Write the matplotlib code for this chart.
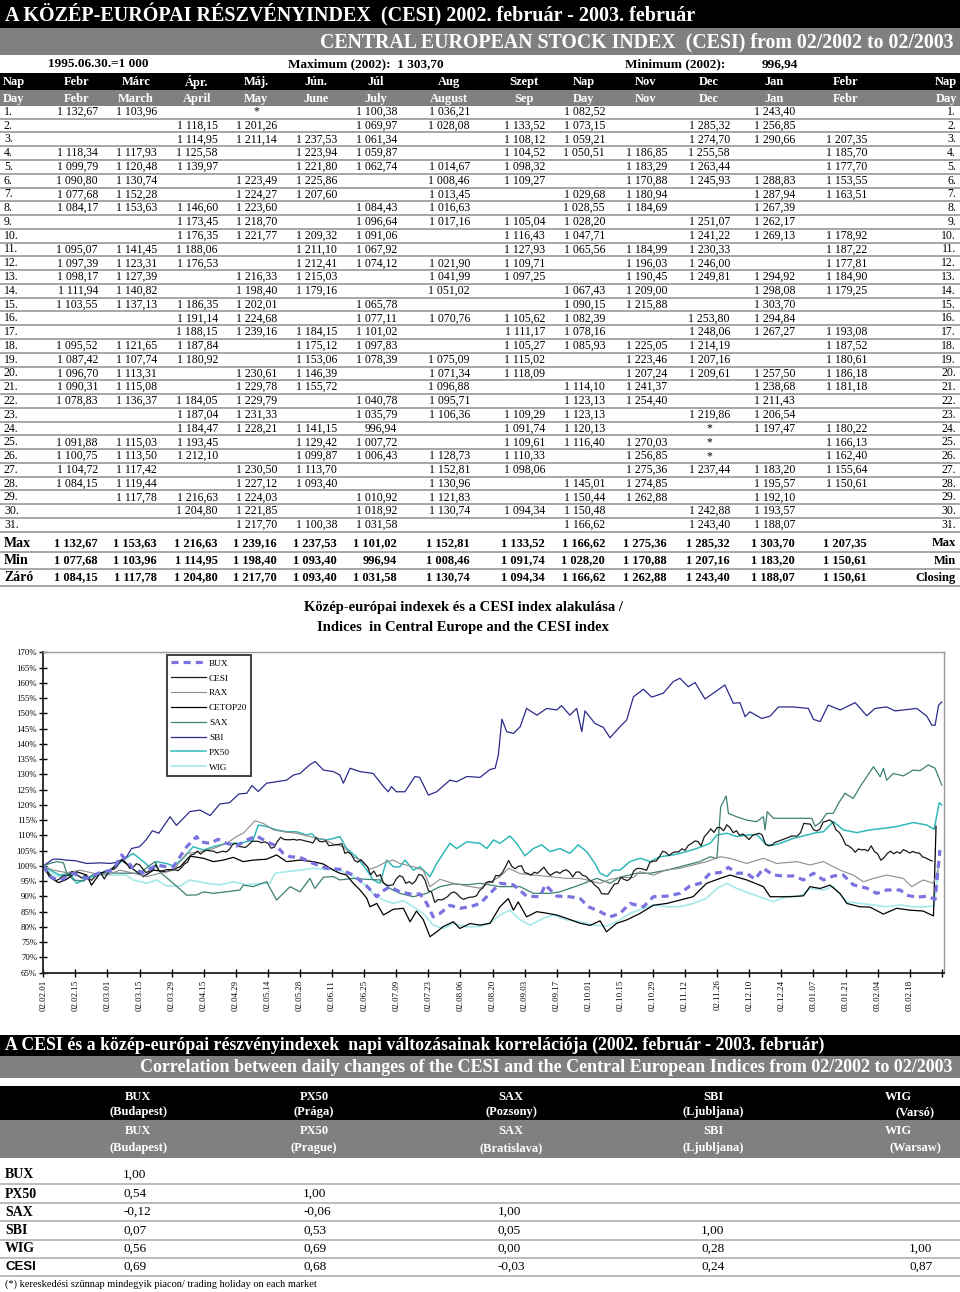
import matplotlib
matplotlib.use('Agg')
import matplotlib.pyplot as plt
from matplotlib.patches import Rectangle
from matplotlib.lines import Line2D
from datetime import date

plt.rcParams['font.family'] = ['Liberation Serif', 'DejaVu Serif']

# ---------------------------------------------------------------- data
months = [(2002, 2), (2002, 3), (2002, 4), (2002, 5), (2002, 6), (2002, 7), (2002, 8),
          (2002, 9), (2002, 10), (2002, 11), (2002, 12), (2003, 1), (2003, 2)]
hu_head = ['Febr', 'Márc', 'Ápr.', 'Máj.', 'Jún.', 'Júl', 'Aug', 'Szept', 'Nap', 'Nov', 'Dec', 'Jan', 'Febr']
en_head = ['Febr', 'March', 'April', 'May', 'June', 'July', 'August', 'Sep', 'Day', 'Nov', 'Dec', 'Jan', 'Febr']

N = None
feb02 = [1132.67, N, N, 1118.34, 1099.79, 1090.80, 1077.68, 1084.17, N, N, 1095.07, 1097.39, 1098.17, 1111.94,
         1103.55, N, N, 1095.52, 1087.42, 1096.70, 1090.31, 1078.83, N, N, 1091.88, 1100.75, 1104.72, 1084.15, N, N, N]
mar02 = [1103.96, N, N, 1117.93, 1120.48, 1130.74, 1152.28, 1153.63, N, N, 1141.45, 1123.31, 1127.39, 1140.82,
         1137.13, N, N, 1121.65, 1107.74, 1113.31, 1115.08, 1136.37, N, N, 1115.03, 1113.50, 1117.42, 1119.44, 1117.78, N, N]
apr02 = [N, 1118.15, 1114.95, 1125.58, 1139.97, N, N, 1146.60, 1173.45, 1176.35, 1188.06, 1176.53, N, N, 1186.35,
         1191.14, 1188.15, 1187.84, 1180.92, N, N, 1184.05, 1187.04, 1184.47, 1193.45, 1212.10, N, N, 1216.63, 1204.80, N]
may02 = ['*', 1201.26, 1211.14, N, N, 1223.49, 1224.27, 1223.60, 1218.70, 1221.77, N, N, 1216.33, 1198.40, 1202.01,
         1224.68, 1239.16, N, N, 1230.61, 1229.78, 1229.79, 1231.33, 1228.21, N, N, 1230.50, 1227.12, 1224.03, 1221.85, 1217.70]
jun02 = [N, N, 1237.53, 1223.94, 1221.80, 1225.86, 1207.60, N, N, 1209.32, 1211.10, 1212.41, 1215.03, 1179.16, N, N,
         1184.15, 1175.12, 1153.06, 1146.39, 1155.72, N, N, 1141.15, 1129.42, 1099.87, 1113.70, 1093.40, N, N, 1100.38]
jul02 = [1100.38, 1069.97, 1061.34, 1059.87, 1062.74, N, N, 1084.43, 1096.64, 1091.06, 1067.92, 1074.12, N, N, 1065.78,
         1077.11, 1101.02, 1097.83, 1078.39, N, N, 1040.78, 1035.79, 996.94, 1007.72, 1006.43, N, N, 1010.92, 1018.92, 1031.58]
aug02 = [1036.21, 1028.08, N, N, 1014.67, 1008.46, 1013.45, 1016.63, 1017.16, N, N, 1021.90, 1041.99, 1051.02, N,
         1070.76, N, N, 1075.09, 1071.34, 1096.88, 1095.71, 1106.36, N, N, 1128.73, 1152.81, 1130.96, 1121.83, 1130.74, N]
sep02 = [N, 1133.52, 1108.12, 1104.52, 1098.32, 1109.27, N, N, 1105.04, 1116.43, 1127.93, 1109.71, 1097.25, N, N,
         1105.62, 1111.17, 1105.27, 1115.02, 1118.09, N, N, 1109.29, 1091.74, 1109.61, 1110.33, 1098.06, N, N, 1094.34, N]
oct02 = [1082.52, 1073.15, 1059.21, 1050.51, N, N, 1029.68, 1028.55, 1028.20, 1047.71, 1065.56, N, N, 1067.43, 1090.15,
         1082.39, 1078.16, 1085.93, N, N, 1114.10, 1123.13, 1123.13, 1120.13, 1116.40, N, N, 1145.01, 1150.44, 1150.48, 1166.62]
nov02 = [N, N, N, 1186.85, 1183.29, 1170.88, 1180.94, 1184.69, N, N, 1184.99, 1196.03, 1190.45, 1209.00, 1215.88, N, N,
         1225.05, 1223.46, 1207.24, 1241.37, 1254.40, N, N, 1270.03, 1256.85, 1275.36, 1274.85, 1262.88, N, N]
dec02 = [N, 1285.32, 1274.70, 1255.58, 1263.44, 1245.93, N, N, 1251.07, 1241.22, 1230.33, 1246.00, 1249.81, N, N,
         1253.80, 1248.06, 1214.19, 1207.16, 1209.61, N, N, 1219.86, '*', '*', '*', 1237.44, N, N, 1242.88, 1243.40]
jan03 = [1243.40, 1256.85, 1290.66, N, N, 1288.83, 1287.94, 1267.39, 1262.17, 1269.13, N, N, 1294.92, 1298.08, 1303.70,
         1294.84, 1267.27, N, N, 1257.50, 1238.68, 1211.43, 1206.54, 1197.47, N, N, 1183.20, 1195.57, 1192.10, 1193.57, 1188.07]
feb03 = [N, N, 1207.35, 1185.70, 1177.70, 1153.55, 1163.51, N, N, 1178.92, 1187.22, 1177.81, 1184.90, 1179.25, N, N,
         1193.08, 1187.52, 1180.61, 1186.18, 1181.18, N, N, 1180.22, 1166.13, 1162.40, 1155.64, 1150.61, N, N, N]
columns = [feb02, mar02, apr02, may02, jun02, jul02, aug02, sep02, oct02, nov02, dec02, jan03, feb03]

max_row = [1132.67, 1153.63, 1216.63, 1239.16, 1237.53, 1101.02, 1152.81, 1133.52, 1166.62, 1275.36, 1285.32, 1303.70, 1207.35]
min_row = [1077.68, 1103.96, 1114.95, 1198.40, 1093.40, 996.94, 1008.46, 1091.74, 1028.20, 1170.88, 1207.16, 1183.20, 1150.61]
close_row = [1084.15, 1117.78, 1204.80, 1217.70, 1093.40, 1031.58, 1130.74, 1094.34, 1166.62, 1262.88, 1243.40, 1188.07, 1150.61]

# chart series (trading-day index, % of 2002.02.01)
bux_x = [0, 2.1, 5.2, 9.3, 13.5, 17.7, 21.8, 24.4, 28, 31.2, 35.3, 38.4, 40.5, 44.7, 47.8, 48.8, 52, 54.5, 57.1, 60.2,
         63.4, 66.5, 69.6, 72.7, 74.8, 76.9, 80, 84.1, 88.3, 92.4, 96.6, 100.8, 103.9, 105.4, 108, 111.1, 114.3, 117.4,
         119.5, 121.5, 123.6, 126.7, 129.8, 133, 136.1, 138.2, 142.3, 146.5, 150.6, 154.8, 156.4, 160, 164.1, 167.3,
         169.9, 173.5, 176.6, 179.7, 182.8, 187, 190.1, 194.3, 198.4, 201.5, 204.7, 207.8, 210.9, 213.5, 216.1, 219.2,
         221.8, 224.4, 227.5, 230.6, 233.7, 236.9, 240, 243.1, 246.2, 249.3, 252.4, 256.6, 259.7, 262.8, 267, 269.1,
         272.2, 275.3, 277.9, 279.4]
bux_y = [100, 96.4, 95.2, 97.6, 95.9, 97.8, 98.7, 103.6, 99.2, 97.6, 100.3, 99.7, 99.7, 106.3, 109.6, 107.9, 107.4,
         108.7, 107.4, 106.5, 108.5, 109.8, 107.9, 106.5, 104.1, 103, 102.8, 100.8, 99.2, 98.9, 97, 93.4, 89.9, 91.5,
         93.2, 91.5, 90.8, 90.8, 87.7, 83.3, 84.4, 87.1, 86.1, 86.6, 87.7, 89.9, 94.3, 93.8, 90.1, 89.9, 93.8, 90.1,
         89.9, 89.3, 86.6, 85, 83.3, 84.4, 87.7, 86.6, 89.9, 90.1, 91, 93.4, 94.3, 97.6, 97.8, 99.5, 97.6, 97.6, 95.6,
         99.2, 97, 96.7, 96.7, 95.4, 97.6, 95.4, 96.7, 97, 93.8, 92.7, 91, 92.1, 92.1, 90.4, 89.7, 90.1, 89, 105.2]

rax_x = [0, 3.1, 7.3, 11.4, 15.6, 19.7, 23.9, 28, 32.2, 36.4, 40.5, 44.7, 48.8, 53, 57.1, 60.2, 62.3, 66, 68.6, 71.7,
         74.8, 78.9, 83.1, 87.3, 90.4, 93.5, 96.6, 99.7, 101.8, 103.9, 107, 109.1, 111.1, 115.3, 118.4, 120.5, 123.6,
         127.8, 132, 136.1, 139, 142.3, 145, 148.5, 152.7, 157.9, 163.1, 167.2, 169.3, 173.5, 176.6, 179.7, 183.9,
         185.9, 190.1, 194.2, 198.4, 202.5, 206.7, 210.9, 214, 219.2, 224.4, 228.5, 234.8, 238.9, 243.1, 248.3, 252.4,
         255.6, 258.7, 262.8, 268, 270.6, 274.2, 277.4, 279]
rax_y = [100, 98.6, 97.8, 98.6, 97.6, 97, 98.6, 97.6, 96.5, 97.6, 98.6, 104.1, 104.6, 105.7, 107.4, 109.6, 110.7,
         114.8, 113.9, 111.8, 111.2, 110.7, 109.6, 108.7, 107.2, 106.3, 103, 101.4, 98.9, 99.7, 101.4, 101.9, 100.8,
         99.7, 98.6, 93.2, 95.6, 94.3, 93.4, 92.7, 94.5, 96.5, 99.2, 97.5, 97, 96.5, 95.9, 95.9, 95.4, 94.3, 95.6, 96.2,
         96.2, 98.1, 97, 98.7, 99.2, 100.3, 101.4, 103, 102.5, 100.8, 102.5, 100.8, 101.4, 100.3, 101.4, 98.6, 97,
         94.8, 95.9, 97, 95.9, 93.2, 95.4, 94.3, 99.5]

cetop_x = [0, 2, 4.7, 7.3, 10.4, 13.5, 15, 17.7, 20.8, 24.4, 28, 31.2, 34.3, 38.4, 42.6, 45.7, 49.9, 53, 56.1, 59.2,
           62.3, 65.4, 69.6, 72.7, 75.8, 80, 84.1, 87.3, 90.4, 92.4, 94.5, 96.6, 98.7, 100.8, 101.8, 103.9, 106, 109.1,
           112.2, 114.3, 116.3, 118.4, 120.5, 122.6, 124.6, 127.8, 129.8, 133, 136.1, 139.2, 142.3, 144.9, 146.5, 148,
           150.6, 153.8, 156.9, 160, 163.1, 167.3, 170.4, 173.5, 175.5, 178.7, 181.8, 185.9, 190.1, 194.3, 198.4, 202.5,
           206.7, 210.9, 214, 219.2, 224.4, 226.5, 232.7, 236.9, 238.9, 242.1, 245.2, 248.3, 250.4, 254.5, 257.6, 261.8,
           265.9, 270.1, 274.2, 277.4, 278.2]
cetop_y = [100, 96.3, 94.5, 95.6, 98.1, 97, 93.7, 97.6, 98.6, 101.9, 98.9, 96.5, 98.6, 98.1, 99.7, 103.2, 102.5,
           101.4, 101.9, 102.8, 101.4, 101.9, 102.2, 103.6, 101.4, 101.9, 101.4, 100.6, 98.6, 97.6, 97, 94.3, 92.1,
           89.4, 86.6, 87.7, 83.9, 85.8, 86.1, 81.7, 85.2, 82.4, 76.8, 78.4, 80.1, 81.7, 79.5, 81.1, 80.6, 81.2, 86.6,
           89.3, 85.5, 88.2, 83.3, 85, 84.5, 83.9, 82.8, 81.2, 80.5, 82, 78.4, 81.2, 82.3, 84.4, 87.1, 87.7, 88.8, 89.9,
           94.3, 95.9, 97, 95.4, 93.2, 89.9, 89.9, 90.2, 93.2, 92.6, 93.7, 90.9, 87.7, 86.6, 86.5, 84.2, 86.1, 85.5,
           85.2, 83.6, 113]

sax_x = [0, 2, 4.2, 6.3, 7.3, 9.4, 12.5, 16, 20, 25, 30, 34.8, 36.4, 40.5, 44.7, 47.8, 50, 53, 57, 61.3, 62.3, 65.4,
         69.6, 72.7, 74.8, 76.9, 80, 83.1, 84.6, 87.3, 90.4, 92.4, 96.6, 100.8, 104.9, 108, 111.1, 115.3, 119.5, 123.6,
         127.8, 132, 136.1, 142.3, 148.6, 152.7, 157.9, 161, 167.3, 172.5, 176.6, 179.7, 184.9, 189, 194.3, 200.5,
         204.6, 207.8, 209.9, 211.1, 212.8, 213.5, 216.1, 219.2, 222.3, 224.4, 224.9, 225.6, 227.5, 234.8, 239.5,
         240.5, 242.1, 244.1, 246.2, 247.8, 249.8, 252.4, 254.5, 256.6, 258.7, 260.8, 261.8, 262.8, 264.9, 268, 271.1,
         273.2, 275.8, 277.9, 280]
sax_y = [100, 100.8, 101.4, 101, 97.6, 95.4, 95, 97.5, 97.7, 97.6, 97.6, 101.4, 97.9, 94.3, 90.4, 90.5, 91.5, 91,
         91.5, 92.1, 93.7, 93.2, 94.8, 88.8, 91, 93.2, 91.5, 95.9, 92.6, 96.3, 96.5, 95.4, 95.9, 95.6, 95.4, 92.6, 91,
         89.9, 91, 93.2, 94.1, 93.8, 94.3, 93.2, 93.2, 91, 91, 91.5, 93.8, 95.9, 94.3, 96.3, 97.6, 97.6, 98.6, 100.3,
         101.4, 103, 102.4, 119.4, 122.9, 117.2, 116.1, 115, 114.5, 116.1, 111.8, 117.8, 115.6, 115.6, 115.6, 113,
         114.2, 117.2, 117.2, 120.5, 123.8, 122.1, 125.9, 129.2, 132.5, 129.2, 132, 128.1, 130.3, 129.5, 131.4, 131.2,
         133.1, 132, 126.5]

sbi_x = [0, 3, 5, 7, 10, 13.5, 17.7, 20.8, 23, 26, 27.5, 30, 32, 34, 36, 39.5, 41.5, 45.7, 48.8, 52, 55, 58, 61, 63.4,
         65, 67, 69.6, 72.7, 75.8, 78, 80, 83, 84.7, 87.3, 90.4, 92.4, 93.5, 95.6, 98.7, 102.8, 106, 107.5, 108.5, 110,
         112.7, 115.8, 117.3, 120, 122.6, 126.7, 128.8, 132, 136.1, 139.2, 140.8, 141.8, 142.9, 144.4, 146.5, 148.6,
         150.6, 153.8, 156.9, 160, 161.5, 164.1, 166.2, 167.8, 168.8, 171.9, 174.5, 176.6, 179.7, 181.8, 183.9, 187,
         189.6, 193.2, 196.3, 198.4, 201, 203.1, 206.2, 208.8, 212.4, 215, 217.1, 218.7, 220.2, 223.9, 226.5, 229.1,
         233.7, 238.4, 240, 242.1, 244.6, 248.3, 253, 256.6, 259.2, 262.8, 265.4, 272.2, 275.3, 276.9, 277.9, 279, 280]
sbi_y = [100, 102.2, 102.2, 101.9, 101.7, 100.8, 101, 100.8, 101.2, 103, 105.7, 106.3, 108.5, 111.5, 110.7, 116.1,
         113.3, 117.8, 118.3, 116.5, 120.3, 120.7, 123.6, 123.8, 126.3, 124.4, 127.1, 127.6, 128.1, 129.8, 130.3,
         133.1, 134.2, 131.4, 130.9, 129.8, 127.1, 132, 130.9, 130.3, 126, 124.3, 126, 124.3, 124.3, 129.3, 129,
         123.2, 124.3, 128.1, 127.6, 129.3, 129, 131.6, 132, 136.3, 148.1, 144, 143.4, 145.6, 151.6, 149.4, 151.6,
         151.1, 152.5, 149.4, 151.6, 144, 150.8, 146.7, 145.4, 142, 145.6, 147.8, 155.4, 157.9, 155.3, 156.6, 160.4,
         161.5, 158.7, 160.1, 154.7, 156.6, 159.3, 153.3, 153.5, 148.9, 150.5, 148.3, 149.1, 152.1, 152.1, 151.6, 148,
         147.3, 152.7, 151.1, 153.5, 149.2, 151.6, 152.1, 150.8, 151.6, 149.1, 146.1, 146.1, 152.7, 153.7]

px50_x = [0, 2, 5.2, 8.3, 10.4, 13.5, 17.7, 21.8, 24.9, 28, 31.2, 34.3, 35.3, 38.4, 40.5, 43.6, 46.7, 49.9, 53, 57.1,
          61.3, 65.4, 67, 69.6, 72.7, 75.8, 78.9, 82.1, 83.6, 85.2, 88.3, 90.4, 92.4, 94.5, 97.6, 100.8, 102.8, 104.9,
          107, 109.1, 111.1, 112.7, 115.3, 117.4, 120.5, 122.6, 126.7, 128.8, 132, 136.1, 138.2, 140.3, 142.3, 145.4,
          147.5, 150.1, 152.7, 155.3, 157.9, 161, 164.1, 166.7, 169.3, 171.9, 173.5, 175.6, 177.6, 179.7, 182.8, 186,
          189.1, 192.2, 196.3, 200.5, 203.6, 207.8, 209.9, 213, 216.1, 219.2, 222.3, 225.4, 227.5, 229.6, 233.7, 237.9,
          240, 243.1, 246.2, 249.3, 253.5, 257.6, 261.8, 265.9, 271.1, 275.3, 277.6, 279.2, 280]
px50_y = [100, 98.6, 97, 97.6, 94.3, 95.9, 97.6, 99.2, 101.9, 104.1, 101.4, 98.6, 101.4, 100.8, 100, 102.5, 106.3,
          105.2, 106.3, 107.4, 107.4, 108.5, 113.4, 112.9, 111.8, 111.2, 111.2, 110.1, 110.6, 109, 108.5, 109, 109.6,
          105.7, 103, 98.6, 95.4, 94.3, 101.9, 99.7, 99.7, 101.9, 98.6, 99.7, 96.5, 100.8, 107.4, 105.7, 107.9, 107.4,
          105.7, 108.5, 107.4, 109.8, 107.4, 103.3, 105.7, 106.9, 104.7, 105.7, 104.1, 106.9, 104.7, 100.8, 97.6, 96.5,
          98.6, 98.6, 101.4, 102.5, 101.4, 103, 103.6, 104.7, 105.7, 107.4, 110.1, 110.7, 109.6, 110.1, 110.3, 106.9,
          106.8, 107.4, 109, 110.1, 110.7, 111.2, 114.5, 111.8, 110.9, 111.8, 112.3, 112.9, 114.2, 113.4, 112, 120.7,
          120]

wig_x = [0, 2, 5.2, 9.3, 13.5, 17.7, 21.8, 25.9, 28, 32.2, 35.3, 38.4, 42.6, 45.7, 50.9, 55, 59.2, 63.4, 67.5, 70.6,
         72.2, 75.8, 80, 84.1, 88.3, 92.4, 96.6, 99.7, 102.8, 106, 109.1, 112.2, 115.3, 118.4, 121.5, 124.6, 127.8, 132,
         136.1, 139.2, 142.3, 145.4, 148.6, 151.7, 155.8, 159, 163.1, 167.3, 171.4, 175.6, 178.7, 182.8, 187, 190.1,
         194.3, 198.4, 202.6, 206.7, 209.9, 213, 216.1, 220.2, 224.4, 227.5, 231.7, 235.8, 238.9, 243.1, 246.2, 250.4,
         254.5, 258.7, 262.8, 267, 271.1, 275.3, 277.6, 278.9]
wig_y = [100, 97.6, 96.5, 97, 95.9, 97, 97, 97, 95.4, 94.3, 95.4, 93.4, 93.4, 95.4, 94.3, 93.8, 94.8, 93.8, 94.3,
         94.3, 97.6, 98.1, 98.6, 99.2, 98.9, 98.6, 96.5, 94.3, 91, 88.8, 87.7, 88.6, 86.6, 84.4, 80.6, 79.5, 81.1, 80,
         80.2, 81.2, 83.9, 85.5, 82.3, 80.6, 82.8, 83.9, 82.3, 81.7, 80.6, 80.3, 81.7, 84.4, 86.1, 87.2, 86.6, 86.6,
         87.7, 89.4, 92.6, 94.3, 92.6, 91, 89.4, 88.3, 90, 90, 92.6, 92.1, 93.2, 88.3, 87.7, 87.2, 86.6, 87.2, 86.6,
         86.6, 86.9, 98.7]

x_tick_labels = ['02.02.01', '02.02.15', '02.03.01', '02.03.15', '02.03.29', '02.04.15', '02.04.29', '02.05.14',
                 '02.05.28', '02.06.11', '02.06.25', '02.07.09', '02.07.23', '02.08.06', '02.08.20', '02.09.03',
                 '02.09.17', '02.10.01', '02.10.15', '02.10.29', '02.11.12', '02.11.26', '02.12.10', '02.12.24',
                 '03.01.07', '03.01.21', '03.02.04', '03.02.18']

corr_names = ['BUX', 'PX50', 'SAX', 'SBI', 'WIG']
corr_hu_city = ['(Budapest)', '(Prága)', '(Pozsony)', '(Ljubljana)', '(Varsó)']
corr_en_city = ['(Budapest)', '(Prague)', '(Bratislava)', '(Ljubljana)', '(Warsaw)']
corr_rows = ['BUX', 'PX50', 'SAX', 'SBI', 'WIG', 'CESI']
corr_bux = [1.00]
corr_px50 = [0.54, 1.00]
corr_sax = [-0.12, -0.06, 1.00]
corr_sbi = [0.07, 0.53, 0.05, 1.00]
corr_wig = [0.56, 0.69, 0.00, 0.28, 1.00]
corr_cesi = [0.69, 0.68, -0.03, 0.24, 0.87]
corr_vals = [corr_bux, corr_px50, corr_sax, corr_sbi, corr_wig, corr_cesi]

# ---------------------------------------------------------------- helpers
W, H = 960, 1292
fig = plt.figure(figsize=(9.6, 12.92), dpi=100)
bg = fig.add_axes([0, 0, 1, 1])
bg.set_xlim(0, W)
bg.set_ylim(H, 0)
bg.axis('off')

GRAY = '#808080'
SEP = '#a6a6a6'
SERIF = 'Liberation Serif'


def hu(v):
    s = f"{v:,.2f}"
    return s.replace(',', ' ').replace('.', ',')


def rect(x0, y0, x1, y1, c):
    bg.add_patch(Rectangle((x0, y0), x1 - x0, y1 - y0, facecolor=c, edgecolor='none'))


def txt(x, y, s, ha='left', size=8.5, bold=False, color='black', family=SERIF):
    bg.text(x, y, s, ha=ha, va='center', fontsize=size, fontweight='bold' if bold else 'normal',
            color=color, family=family)


def hline(y, x0=0, x1=W, c=SEP, lw=1.4):
    bg.plot([x0, x1], [y, y], color=c, lw=lw, solid_capstyle='butt')


# ---------------------------------------------------------------- top table
rect(0, 0, W, 28, 'black')
txt(5, 15, 'A KÖZÉP-EURÓPAI RÉSZVÉNYINDEX  (CESI) 2002. február - 2003. február', size=14.5, bold=True, color='white')
rect(0, 28, W, 55, GRAY)
txt(953, 42, 'CENTRAL EUROPEAN STOCK INDEX  (CESI) from 02/2002 to 02/2003', ha='right', size=14.3, bold=True,
    color='white')
txt(48, 64, '1995.06.30.=1 000', size=9.5, bold=True)
txt(288, 64, 'Maximum (2002):  1 303,70', size=9.5, bold=True)
txt(625, 64, 'Minimum (2002):', size=9.5, bold=True)
txt(762, 64, '996,94', size=9.5, bold=True)

rect(0, 73, W, 90, 'black')
rect(0, 90, W, 106, GRAY)
right_edge = [98, 157, 218, 277, 337, 397, 470, 545, 605, 667, 730, 795, 867]
txt(3, 82, 'Nap', size=9, bold=True, color='white')
txt(3, 99, 'Day', size=9, bold=True, color='white')
txt(957, 82, 'Nap', ha='right', size=9, bold=True, color='white')
txt(957, 99, 'Day', ha='right', size=9, bold=True, color='white')
for c in range(13):
    cx = right_edge[c] - 21
    txt(cx, 82, hu_head[c], ha='center', size=9, bold=True, color='white')
    txt(cx, 99, en_head[c], ha='center', size=9, bold=True, color='white')

ROW0, ROWH = 111.8, 13.77
for r in range(31):
    y = ROW0 + r * ROWH
    txt(4, y, f'{r + 1}.', size=8.5)
    txt(956, y, f'{r + 1}.', ha='right', size=8.5)
    for c in range(13):
        v = columns[c][r]
        if v is None:
            continue
        if v == '*':
            txt(right_edge[c] - 21, y, '*', ha='center', size=8.5)
        else:
            txt(right_edge[c], y, hu(v), ha='right', size=8.5)
    hline(y + 6.9)

for lab, lab_r, vals, y in [('Max', 'Max', max_row, 543.5), ('Min', 'Min', min_row, 560.5),
                            ('Záró', 'Closing', close_row, 577.5)]:
    txt(4, y, lab, size=10, bold=True)
    txt(956, y, lab_r, ha='right', size=9, bold=True)
    for c in range(13):
        txt(right_edge[c], y, hu(vals[c]), ha='right', size=9, bold=True)
    hline(y + 8.5)

# ---------------------------------------------------------------- chart
txt(463, 608, 'Közép-európai indexek és a CESI index alakulása /', ha='center', size=10.5, bold=True)
txt(463, 627, 'Indices  in Central Europe and the CESI index', ha='center', size=10.5, bold=True)

L, R, T, B = 43.3, 944, 652.3, 972.7
ax = fig.add_axes([L / W, 1 - B / H, (R - L) / W, (B - T) / H])
ax.set_xlim(0, (R - L) / 3.209)
ax.set_ylim(65, 170)

# CESI from the table, indexed on the chart's trading-day axis
cesi_x, cesi_y = [], []
k = 0
base = columns[0][0]
for (yr, mo), col in zip(months, columns):
    for d in range(1, 32):
        try:
            date(yr, mo, d)
        except ValueError:
            continue
        v = col[d - 1]
        if v is None:
            continue
        if v != '*':
            cesi_x.append(k)
            cesi_y.append(v / base * 100)
        k += 1

styles = {
    'BUX': dict(color='#7a72e0', lw=2.3, ls=(0, (2.2, 1.6))),
    'CESI': dict(color='#1a1a1a', lw=0.9),
    'RAX': dict(color='#8c8c8c', lw=0.8),
    'CETOP20': dict(color='#000000', lw=0.9),
    'SAX': dict(color='#3d8074', lw=0.9),
    'SBI': dict(color='#2b2b8c', lw=0.9),
    'PX50': dict(color='#33b8b8', lw=1.1),
    'WIG': dict(color='#a6e9e9', lw=1.2),
}
series = [('WIG', wig_x, wig_y), ('PX50', px50_x, px50_y), ('SBI', sbi_x, sbi_y), ('SAX', sax_x, sax_y),
          ('CETOP20', cetop_x, cetop_y), ('RAX', rax_x, rax_y), ('CESI', cesi_x, cesi_y), ('BUX', bux_x, bux_y)]
for name, xs, ys in series:
    ax.plot(xs, ys, **styles[name])

ax.set_yticks(range(65, 171, 5))
ax.set_yticklabels([f'{t}%' for t in range(65, 171, 5)])
ax.set_xticks(range(0, 281, 10))
ax.set_xticklabels(x_tick_labels + [''], rotation=90)
ax.tick_params(axis='y', direction='inout', length=6, width=1, labelsize=6.3, pad=1.5)
ax.tick_params(axis='x', direction='inout', length=6, width=1, labelsize=6.3, pad=2)
for s in ['left', 'bottom']:
    ax.spines[s].set_linewidth(1.3)
    ax.spines[s].set_color('#222222')
for s in ['top', 'right']:
    ax.spines[s].set_linewidth(1)
    ax.spines[s].set_color('#9a9a9a')

order = ['BUX', 'CESI', 'RAX', 'CETOP20', 'SAX', 'SBI', 'PX50', 'WIG']
handles = [Line2D([], [], **styles[n]) for n in order]
leg = ax.legend(handles, order, loc='upper left', bbox_to_anchor=((167 - L) / (R - L), (B - 655) / (B - T)),
                prop={'family': SERIF, 'size': 6.7}, frameon=True, fancybox=False, edgecolor='#404040',
                framealpha=1, borderpad=0.45, labelspacing=0.68, handlelength=3.7, handletextpad=0.35,
                borderaxespad=0)
leg.get_frame().set_linewidth(1.4)

# ---------------------------------------------------------------- correlation table
rect(0, 1035, W, 1056, 'black')
txt(5, 1045, 'A CESI és a közép-európai részvényindexek  napi változásainak korrelációja (2002. február - 2003. február)',
    size=12.8, bold=True, color='white')
rect(0, 1056, W, 1078, GRAY)
txt(953, 1067, 'Correlation between daily changes of the CESI and the Central European Indices from 02/2002 to 02/2003',
    ha='right', size=13, bold=True, color='white')

rect(0, 1086, W, 1120, 'black')
rect(0, 1120, W, 1158, GRAY)
head_cx = [138, 314, 511, 713, 898]
for i in range(5):
    if i < 4:
        txt(head_cx[i], 1097, corr_names[i], ha='center', size=9, bold=True, color='white')
        txt(head_cx[i], 1112, corr_hu_city[i], ha='center', size=9, bold=True, color='white')
        txt(head_cx[i], 1131, corr_names[i], ha='center', size=9, bold=True, color='white')
        txt(head_cx[i], 1148, corr_en_city[i], ha='center', size=9, bold=True, color='white')
    else:
        txt(head_cx[i], 1097, corr_names[i], ha='center', size=9, bold=True, color='white')
        txt(935, 1112, corr_hu_city[i], ha='right', size=9, bold=True, color='white')
        txt(head_cx[i], 1131, corr_names[i], ha='center', size=9, bold=True, color='white')
        txt(941, 1148, corr_en_city[i], ha='right', size=9, bold=True, color='white')

col_left = [123, 303, 498, 701, 909]
row_y = [1175, 1194, 1212, 1231, 1249, 1267]
for i, name in enumerate(corr_rows):
    y = row_y[i]
    fam = 'Liberation Sans' if name == 'CESI' else SERIF
    txt(5, y, name, size=10 if name != 'CESI' else 9.5, bold=True, family=fam)
    for j, v in enumerate(corr_vals[i]):
        txt(col_left[j], y, f'{v:.2f}'.replace('.', ','), size=9.5)
    hline(y + 9, c='#b0b0b0', lw=1.2)

txt(5, 1284, '(*) kereskedési szünnap mindegyik piacon/ trading holiday on each market', size=7.5)

fig.savefig('out.png', dpi=100)
